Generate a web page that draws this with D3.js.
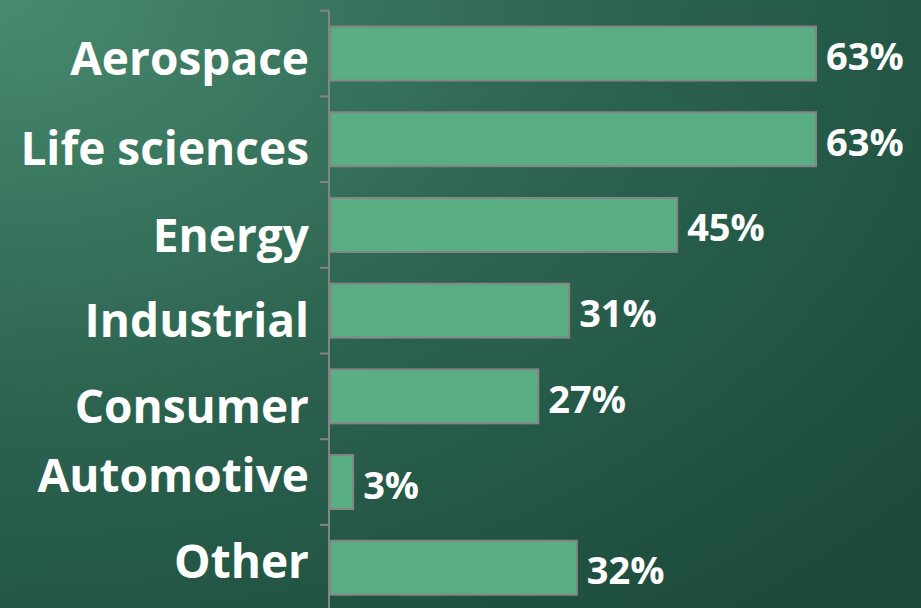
<!DOCTYPE html>
<html>
<head>
<meta charset="utf-8">
<script src="https://cdn.jsdelivr.net/npm/d3@7"></script>
<style>
  html, body { margin: 0; padding: 0; background: #2b6450; }
  svg { display: block; }
</style>
</head>
<body>
<div id="chart"></div>
<script>
var categories = ["Aerospace", "Life sciences", "Energy", "Industrial", "Consumer", "Automotive", "Other"];
var values = [63, 63, 45, 31, 27, 3, 32];
var valueLabels = ["63%", "63%", "45%", "31%", "27%", "3%", "32%"];

var width = 921, height = 608;
var axisX = 330;
var plotTop = 10.7, step = 85.7;
// the original labels sit a bit off the bar centres
var labelNudge = [5, 9, 11, 10, 10, -7, -6];

var svg = d3.select("#chart")
    .append("svg")
    .attr("width", width)
    .attr("height", height);

// background gradient, lighter top left
var defs = svg.append("defs");
var grad = defs.append("radialGradient")
    .attr("id", "bg")
    .attr("cx", "0%").attr("cy", "0%")
    .attr("r", "130%")
    .attr("gradientUnits", "objectBoundingBox");
grad.append("stop").attr("offset", "0%").attr("stop-color", "#488a6f");
grad.append("stop").attr("offset", "50%").attr("stop-color", "#2c6450");
grad.append("stop").attr("offset", "100%").attr("stop-color", "#1c4a3b");

svg.append("rect")
    .attr("width", width)
    .attr("height", height)
    .attr("fill", "url(#bg)");

var y = d3.scaleBand()
    .domain(categories)
    .range([plotTop, plotTop + step * categories.length])
    .paddingInner(0.37)
    .paddingOuter(0.185);

var x = d3.scaleLinear()
    .domain([0, 63])
    .range([axisX, 816]);

// bars
svg.selectAll(".bar")
    .data(categories)
    .enter()
    .append("rect")
    .attr("class", "bar")
    .attr("x", x(0))
    .attr("y", function (d) { return y(d); })
    .attr("width", function (d, i) { return x(values[i]) - x(0); })
    .attr("height", y.bandwidth())
    .attr("fill", "#5aae84")
    .attr("stroke", "#858585")
    .attr("stroke-width", 2);

// axis line and ticks between bands
var axisG = svg.append("g")
    .attr("transform", "translate(" + (axisX - 1) + ",0)");

axisG.append("line")
    .attr("x1", 0).attr("x2", 0)
    .attr("y1", plotTop).attr("y2", height)
    .attr("stroke", "#858585")
    .attr("stroke-width", 2);

axisG.selectAll(".sep")
    .data(d3.range(categories.length + 1))
    .enter()
    .append("line")
    .attr("class", "sep")
    .attr("x1", -9).attr("x2", 0)
    .attr("y1", function (d) { return plotTop + d * step; })
    .attr("y2", function (d) { return plotTop + d * step; })
    .attr("stroke", "#858585")
    .attr("stroke-width", 2);

// category labels
svg.selectAll(".cat")
    .data(categories)
    .enter()
    .append("text")
    .attr("class", "cat")
    .attr("x", 309)
    .attr("y", function (d, i) { return y(d) + y.bandwidth() / 2 + 16.5 + labelNudge[i]; })
    .attr("text-anchor", "end")
    .attr("font-family", "'Open Sans', sans-serif")
    .attr("font-weight", "bold")
    .attr("font-size", 46)
    .attr("fill", "#ffffff")
    .text(function (d) { return d; });

// value labels
svg.selectAll(".val")
    .data(categories)
    .enter()
    .append("text")
    .attr("class", "val")
    .attr("x", function (d, i) { return x(values[i]) + 10; })
    .attr("y", function (d) { return y(d) + y.bandwidth() / 2 + 16.5; })
    .attr("font-family", "'Open Sans', sans-serif")
    .attr("font-weight", "bold")
    .attr("font-size", 38)
    .attr("fill", "#ffffff")
    .text(function (d, i) { return valueLabels[i]; });
</script>
</body>
</html>
